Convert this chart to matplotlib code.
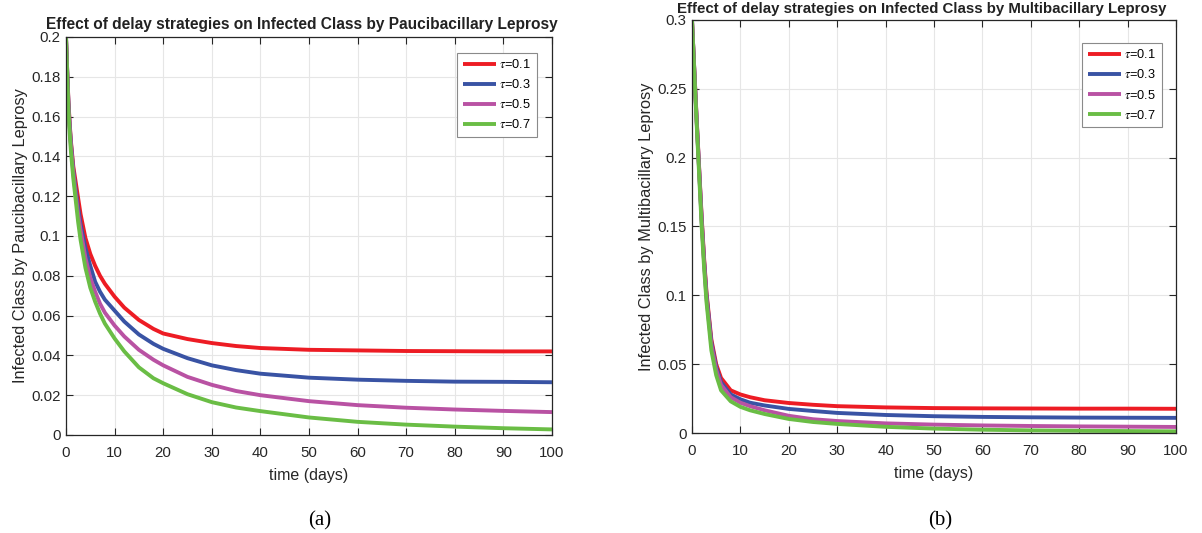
import matplotlib
matplotlib.use("Agg")
import matplotlib.pyplot as plt
from matplotlib.ticker import FuncFormatter, MultipleLocator

# ---------------- data ----------------
t_pb = [0, 0.25, 0.5, 0.75, 1, 1.5, 2, 2.5, 3, 4, 5, 6, 7, 8, 10, 12, 15, 18, 20, 25, 30, 35, 40,
        50, 60, 70, 80, 90, 100]
pb_tau01 = [0.2, 0.183, 0.168, 0.157, 0.148, 0.135, 0.127, 0.119, 0.111, 0.099, 0.091, 0.085, 0.080,
            0.076, 0.0695, 0.064, 0.0578, 0.0533, 0.051, 0.0482, 0.0462, 0.0447, 0.0437,
            0.0428, 0.0425, 0.0422, 0.0421, 0.0420, 0.0420]
pb_tau03 = [0.2, 0.183, 0.167, 0.156, 0.147, 0.133, 0.123, 0.114, 0.106, 0.094, 0.085, 0.077, 0.072,
            0.068, 0.0625, 0.057, 0.0505, 0.0458, 0.0433, 0.0386, 0.0350, 0.0326, 0.0308,
            0.0288, 0.0278, 0.0272, 0.0268, 0.0267, 0.0265]
pb_tau05 = [0.2, 0.182, 0.166, 0.155, 0.146, 0.132, 0.121, 0.111, 0.103, 0.089, 0.079, 0.072, 0.066,
            0.0615, 0.055, 0.0495, 0.0428, 0.0378, 0.035, 0.0292, 0.0252, 0.0221, 0.020,
            0.017, 0.015, 0.0137, 0.0128, 0.0121, 0.0115]
pb_tau07 = [0.2, 0.181, 0.164, 0.152, 0.143, 0.129, 0.118, 0.107, 0.098, 0.084, 0.074, 0.067, 0.061,
            0.056, 0.0485, 0.042, 0.034, 0.0285, 0.026, 0.0205, 0.0165, 0.0138, 0.012,
            0.0088, 0.0066, 0.0052, 0.0042, 0.0034, 0.0028]

t_mb = [0, 0.5, 1, 1.5, 2, 2.5, 3, 4, 5, 6, 8, 10, 12, 15, 20, 25, 30, 40, 50, 60, 70, 80, 90, 100]
mb_tau01 = [0.3, 0.262, 0.226, 0.191, 0.157, 0.127, 0.102, 0.068, 0.050, 0.040, 0.031, 0.028, 0.026, 0.0238,
            0.0218, 0.0205, 0.0195, 0.0186, 0.0181, 0.0179, 0.0178, 0.0177, 0.0177, 0.0176]
mb_tau03 = [0.3, 0.262, 0.225, 0.190, 0.155, 0.125, 0.100, 0.066, 0.048, 0.037, 0.028, 0.0245, 0.022, 0.020,
            0.0175, 0.016, 0.0146, 0.0131, 0.0122, 0.0117, 0.0114, 0.0112, 0.0111, 0.0110]
mb_tau05 = [0.3, 0.261, 0.224, 0.189, 0.154, 0.124, 0.098, 0.064, 0.046, 0.035, 0.026, 0.022, 0.0195, 0.0165,
            0.0125, 0.0100, 0.0087, 0.0070, 0.0061, 0.0055, 0.0051, 0.0048, 0.0046, 0.0044]
mb_tau07 = [0.3, 0.260, 0.222, 0.186, 0.150, 0.120, 0.095, 0.060, 0.042, 0.031, 0.023, 0.019, 0.0165, 0.0138,
            0.0102, 0.0080, 0.0066, 0.0045, 0.0032, 0.0024, 0.0019, 0.0016, 0.0014, 0.0012]

labels = [r'$\tau$=0.1', r'$\tau$=0.3', r'$\tau$=0.5', r'$\tau$=0.7']
colors = ['#ED1C24', '#3953A4', '#B952A3', '#6ABD45']
title_a = 'Effect of delay strategies on Infected Class by Paucibacillary Leprosy'
title_b = 'Effect of delay strategies on Infected Class by Multibacillary Leprosy'
ylabel_a = 'Infected Class by Paucibacillary Leprosy'
ylabel_b = 'Infected Class by Multibacillary Leprosy'

# ---------------- figure ----------------
plt.rcParams['font.family'] = ['Liberation Sans', 'DejaVu Sans']
plt.rcParams['mathtext.fontset'] = 'stix'
fig = plt.figure(figsize=(12.02, 5.33), dpi=100)
ax1 = fig.add_axes([0.0549, 0.1839, 0.4043, 0.7467])
ax2 = fig.add_axes([0.5757, 0.1876, 0.4027, 0.7749])

fmt = FuncFormatter(lambda v, p: '%g' % round(v, 4))


def style(ax, ymax, ystep, ylabel):
    ax.set_xlim(0, 100)
    ax.set_ylim(0, ymax)
    ax.xaxis.set_major_locator(MultipleLocator(10))
    ax.yaxis.set_major_locator(MultipleLocator(ystep))
    ax.yaxis.set_major_formatter(fmt)
    ax.grid(True, color='#e6e6e6', lw=0.8)
    ax.set_axisbelow(True)
    ax.tick_params(direction='in', top=True, right=True, length=5, width=0.8,
                   labelsize=10.8, colors='#262626')
    ax.tick_params(axis='x', pad=8)
    ax.tick_params(axis='y', pad=4)
    for s in ax.spines.values():
        s.set_color('#262626')
        s.set_linewidth(0.9)
    ax.set_xlabel('time (days)', fontsize=11.5, color='#262626', labelpad=6)
    ax.set_ylabel(ylabel, fontsize=11.8, color='#262626', labelpad=2)


for y, c, l in zip([pb_tau01, pb_tau03, pb_tau05, pb_tau07], colors, labels):
    ax1.plot(t_pb, y, color=c, lw=2.8, label=l, solid_capstyle='butt', solid_joinstyle='round')
for y, c, l in zip([mb_tau01, mb_tau03, mb_tau05, mb_tau07], colors, labels):
    ax2.plot(t_mb, y, color=c, lw=2.8, label=l, solid_capstyle='butt', solid_joinstyle='round')

style(ax1, 0.2, 0.02, ylabel_a)
style(ax2, 0.3, 0.05, ylabel_b)

fig.text(302 / 1202, 1 - 24 / 533, title_a, fontsize=11.2, fontweight='bold', color='#222222',
         ha='center', va='center')
fig.text(922 / 1202, 1 - 8.5 / 533, title_b, fontsize=10.8, fontweight='bold', color='#222222',
         ha='center', va='center')

for ax, anchor in [(ax1, (0.969, 0.961)), (ax2, (0.971, 0.945))]:
    leg = ax.legend(loc='upper right', bbox_to_anchor=anchor, fontsize=9.2, handlelength=2.6,
                    handletextpad=0.25, borderpad=0.45, labelspacing=0.55, fancybox=False,
                    framealpha=1, edgecolor='#8a8a8a', borderaxespad=0)
    leg.get_frame().set_linewidth(0.8)

fig.text(320 / 1202, 1 - 521 / 533, '(a)', fontsize=15, family=['Liberation Serif', 'DejaVu Serif'],
         ha='center', va='center')
fig.text(940 / 1202, 1 - 521 / 533, '(b)', fontsize=15, family=['Liberation Serif', 'DejaVu Serif'],
         ha='center', va='center')

fig.savefig('out.png', dpi=100)
